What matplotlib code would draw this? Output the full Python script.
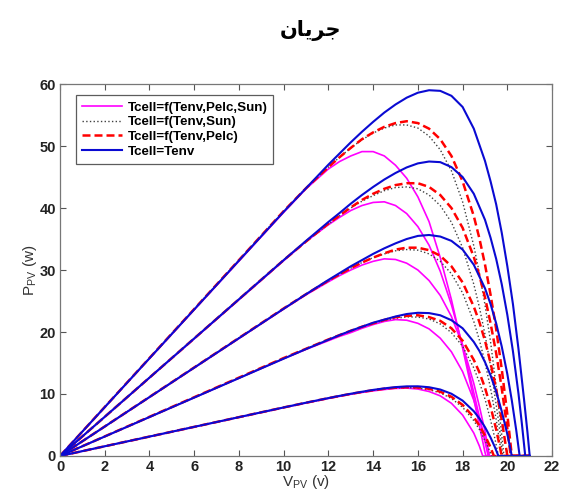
import matplotlib
matplotlib.use('Agg')
import matplotlib.pyplot as plt

plt.rcParams['font.family'] = ['Liberation Sans', 'DejaVu Sans']
plt.rcParams['mathtext.fontset'] = 'custom'
plt.rcParams['mathtext.rm'] = 'Liberation Sans'

# P-V curves of the module, 5 irradiance levels (top to bottom), 4 cell temperature models
# Tcell = f(Tenv, Pelc, Sun)
v_full = [
    [0, 10, 11, 12, 12.5, 13, 13.5, 14, 14.5, 15, 15.5, 16, 16.5, 17, 17.5, 18, 18.5, 18.75, 19, 19.05, 21],
    [0, 10, 11, 12, 12.5, 13, 13.5, 14, 14.5, 15, 15.5, 16, 16.5, 17, 17.5, 18, 18.5, 18.75, 19, 19.15, 21],
    [0, 10, 11, 12, 12.5, 13, 13.5, 14, 14.5, 15, 15.5, 16, 16.5, 17, 17.5, 18, 18.5, 18.75, 19, 19.2, 21],
    [0, 10, 11, 12, 12.5, 13, 13.5, 14, 14.5, 15, 15.5, 16, 16.5, 17, 17.5, 18, 18.5, 18.75, 19, 19.15, 21],
    [0, 10, 11, 12, 12.5, 13, 13.5, 14, 14.5, 15, 15.5, 16, 16.5, 17, 17.5, 18, 18.5, 18.75, 18.9, 21],
]
p_full = [
    [0, 39.3, 43.1, 46.3, 47.5, 48.4, 49.1, 49.1, 48.4, 46.9, 44.8, 41.8, 37.8, 32.0, 25.2, 17.4, 9.2, 4.9, 0.6, 0, 0],
    [0, 31.5, 34.6, 37.3, 38.5, 39.6, 40.4, 40.9, 41.0, 40.4, 39.1, 37.0, 34.0, 29.8, 24.4, 17.8, 10.2, 6.3, 2.3, 0, 0],
    [0, 23.7, 26.0, 28.1, 29.1, 30.0, 30.8, 31.4, 31.8, 31.7, 31.1, 30.0, 28.3, 25.9, 22.5, 17.9, 11.7, 8.0, 4.0, 0, 0],
    [0, 15.7, 17.2, 18.6, 19.3, 19.9, 20.6, 21.2, 21.7, 22.0, 21.9, 21.4, 20.5, 19.0, 16.8, 13.6, 9.0, 6.0, 2.8, 0, 0],
    [0, 7.8, 8.55, 9.28, 9.62, 9.95, 10.25, 10.5, 10.72, 10.9, 10.95, 10.8, 10.4, 9.7, 8.5, 6.6, 3.7, 1.6, 0, 0],
]

# Tcell = f(Tenv, Sun)
v_sun = [
    [0, 10, 11, 12, 12.5, 13, 13.5, 14, 14.5, 15, 15.5, 16, 16.5, 17, 17.5, 18, 18.5, 18.75, 19, 19.25, 19.6, 19.85, 21],
    [0, 10, 11, 12, 12.5, 13, 13.5, 14, 14.5, 15, 15.5, 16, 16.5, 17, 17.5, 18, 18.5, 18.75, 19, 19.25, 19.6, 19.8, 21],
    [0, 10, 11, 12, 12.5, 13, 13.5, 14, 14.5, 15, 15.5, 16, 16.5, 17, 17.5, 18, 18.5, 18.75, 19, 19.25, 19.5, 19.75, 21],
    [0, 10, 11, 12, 12.5, 13, 13.5, 14, 14.5, 15, 15.5, 16, 16.5, 17, 17.5, 18, 18.5, 18.75, 19, 19.25, 19.45, 19.6, 21],
    [0, 10, 11, 12, 12.5, 13, 13.5, 14, 14.5, 15, 15.5, 16, 16.5, 17, 17.5, 18, 18.5, 18.75, 19.1, 19.3, 21],
]
p_sun = [
    [0, 39.5, 43.2, 46.6, 48.2, 49.7, 51.0, 52.1, 52.9, 53.4, 53.4, 52.9, 51.6, 49.4, 46.0, 41.0, 33.9, 29.5, 24.4, 18.4, 8.4, 0, 0],
    [0, 31.6, 34.6, 37.4, 38.75, 40.0, 41.1, 42.0, 42.8, 43.3, 43.4, 43.1, 42.1, 40.4, 37.7, 33.6, 27.7, 24.0, 19.6, 14.5, 5.8, 0, 0],
    [0, 23.8, 26.1, 28.2, 29.3, 30.3, 31.2, 32.0, 32.6, 33.1, 33.3, 33.2, 32.6, 31.4, 29.4, 26.3, 21.7, 18.7, 15.1, 10.9, 5.9, 0, 0],
    [0, 15.8, 17.3, 18.8, 19.5, 20.2, 20.8, 21.4, 21.9, 22.2, 22.45, 22.4, 22.1, 21.3, 19.9, 17.7, 14.2, 11.9, 9.2, 5.8, 2.7, 0, 0],
    [0, 7.83, 8.59, 9.32, 9.67, 10.01, 10.32, 10.59, 10.81, 10.97, 11.04, 10.96, 10.7, 10.18, 9.28, 7.86, 5.71, 4.28, 1.76, 0, 0],
]

# Tcell = f(Tenv, Pelc)
v_pelc = [
    [0, 10, 11, 12, 12.5, 13, 13.5, 14, 14.5, 15, 15.5, 16, 16.5, 17, 17.5, 18, 18.5, 18.75, 19, 19.25, 19.5, 19.75, 20, 20.2, 21],
    [0, 10, 11, 12, 12.5, 13, 13.5, 14, 14.5, 15, 15.5, 16, 16.5, 17, 17.5, 18, 18.5, 18.75, 19, 19.25, 19.5, 19.75, 20, 20.15, 21],
    [0, 10, 11, 12, 12.5, 13, 13.5, 14, 14.5, 15, 15.5, 16, 16.5, 17, 17.5, 18, 18.5, 18.75, 19, 19.25, 19.5, 19.75, 20.0, 21],
    [0, 10, 11, 12, 12.5, 13, 13.5, 14, 14.5, 15, 15.5, 16, 16.5, 17, 17.5, 18, 18.5, 18.75, 19, 19.25, 19.5, 19.75, 21],
    [0, 10, 11, 12, 12.5, 13, 13.5, 14, 14.5, 15, 15.5, 16, 16.5, 17, 17.5, 18, 18.5, 18.75, 19, 19.2, 19.4, 21],
]
p_pelc = [
    [0, 39.5, 43.2, 46.6, 48.2, 49.7, 51.1, 52.2, 53.1, 53.7, 54.0, 53.7, 52.8, 51.1, 48.4, 44.3, 38.7, 35.1, 30.9, 26.0, 20.5, 14.0, 6.7, 0, 0],
    [0, 31.6, 34.6, 37.5, 38.8, 40.1, 41.3, 42.3, 43.1, 43.7, 44.0, 44.0, 43.4, 42.1, 40.0, 36.8, 32.1, 29.1, 25.6, 21.4, 16.6, 10.9, 4.4, 0, 0],
    [0, 23.8, 26.1, 28.3, 29.3, 30.3, 31.2, 32.0, 32.7, 33.3, 33.6, 33.6, 33.2, 32.3, 30.6, 28.0, 24.1, 21.6, 18.6, 15.0, 10.8, 5.8, 0, 0],
    [0, 15.8, 17.3, 18.8, 19.5, 20.2, 20.85, 21.4, 21.95, 22.4, 22.6, 22.7, 22.4, 21.8, 20.6, 18.6, 15.5, 13.5, 11.0, 7.95, 4.3, 0, 0],
    [0, 7.83, 8.59, 9.33, 9.68, 10.02, 10.33, 10.61, 10.85, 11.02, 11.1, 11.06, 10.84, 10.37, 9.55, 8.24, 6.25, 4.9, 3.3, 1.77, 0, 0],
]

# Tcell = Tenv
v_env = [
    [0, 10, 11, 12, 12.5, 13, 13.5, 14, 14.5, 15, 15.5, 16, 16.5, 17, 17.5, 18, 18.5, 19, 19.25, 19.5, 19.75, 20, 20.25, 20.5, 20.75, 20.9, 21],
    [0, 10, 11, 12, 12.5, 13, 13.5, 14, 14.5, 15, 15.5, 16, 16.5, 17, 17.5, 18, 18.5, 19, 19.25, 19.5, 19.75, 20, 20.25, 20.5, 20.65, 20.8, 21],
    [0, 10, 11, 12, 12.5, 13, 13.5, 14, 14.5, 15, 15.5, 16, 16.5, 17, 17.5, 18, 18.5, 19, 19.25, 19.5, 19.75, 20, 20.2, 20.4, 20.55, 21],
    [0, 10, 11, 12, 12.5, 13, 13.5, 14, 14.5, 15, 15.5, 16, 16.5, 17, 17.5, 18, 18.5, 18.75, 19, 19.25, 19.5, 19.75, 20, 20.2, 21],
    [0, 10, 11, 12, 12.5, 13, 13.5, 14, 14.5, 15, 15.5, 16, 16.5, 17, 17.5, 18, 18.5, 18.75, 19, 19.25, 19.45, 19.6, 21],
]
p_env = [
    [0, 39.4, 43.2, 47.0, 48.8, 50.6, 52.3, 53.9, 55.4, 56.7, 57.8, 58.6, 59.0, 58.9, 58.1, 56.3, 52.8, 47.6, 44.3, 40.6, 36.0, 30.6, 24.5, 17.2, 9.0, 3.8, 0],
    [0, 31.6, 34.7, 37.75, 39.2, 40.7, 42.1, 43.4, 44.6, 45.65, 46.55, 47.2, 47.5, 47.4, 46.6, 45.0, 42.3, 38.1, 35.2, 31.8, 27.7, 22.75, 16.9, 10.0, 5.2, 0, 0],
    [0, 23.75, 26.1, 28.4, 29.5, 30.6, 31.6, 32.6, 33.5, 34.3, 35.0, 35.5, 35.65, 35.4, 34.7, 33.3, 30.85, 27.05, 24.5, 21.4, 17.65, 13.2, 8.95, 4.1, 0, 0],
    [0, 15.7, 17.25, 18.75, 19.5, 20.2, 20.85, 21.5, 22.0, 22.5, 22.9, 23.1, 23.05, 22.7, 21.9, 20.6, 18.4, 16.95, 15.15, 13.0, 10.4, 7.2, 3.5, 0, 0],
    [0, 7.83, 8.6, 9.34, 9.7, 10.04, 10.36, 10.66, 10.91, 11.11, 11.23, 11.24, 11.09, 10.72, 10.04, 8.93, 7.22, 6.06, 4.66, 2.97, 1.37, 0, 0],
]

labels = ['Tcell=f(Tenv,Pelc,Sun)', 'Tcell=f(Tenv,Sun)', 'Tcell=f(Tenv,Pelc)', 'Tcell=Tenv']
x_ticks = [0, 2, 4, 6, 8, 10, 12, 14, 16, 18, 20, 22]
y_ticks = [0, 10, 20, 30, 40, 50, 60]

fig = plt.figure(figsize=(5.63, 4.92), dpi=100)
ax = fig.add_axes([0.1066, 0.0732, 0.874, 0.756])

groups = [
    (v_full, p_full, dict(color='#ff00ff', lw=1.2, ls='-')),
    (v_sun, p_sun, dict(color='#404040', lw=1.0, ls=':')),
    (v_pelc, p_pelc, dict(color='#ff0000', lw=1.8, ls=(0, (3.2, 1.6)))),
    (v_env, p_env, dict(color='#0a0ad2', lw=1.5, ls='-')),
]
handles = []
for (vs, ps, style), lab in zip(groups, labels):
    for i, (v, p) in enumerate(zip(vs, ps)):
        ln, = ax.plot(v, p, solid_joinstyle='round', **style)
        if i == 0:
            ln.set_label(lab)
            handles.append(ln)

ax.set_xlim(0, 22)
ax.set_ylim(0, 60)
ax.set_xticks(x_ticks)
ax.set_yticks(y_ticks)
ax.tick_params(direction='in', length=4, width=0.8, top=True, right=True,
               labelsize=10.5, colors='#555555', labelcolor='#222222', pad=3)
for lbl in ax.get_xticklabels() + ax.get_yticklabels():
    lbl.set_fontweight('bold')
for sp in ax.spines.values():
    sp.set_color('#777777')
    sp.set_linewidth(0.9)

ax.set_xlabel(r'$\mathregular{V_{PV}}$ (v)', fontsize=11, color='#333333', labelpad=-1)
ax.set_ylabel(r'$\mathregular{P_{PV}}$ (w)', fontsize=11, color='#333333', labelpad=0)

leg = ax.legend(handles=handles, loc='upper left', bbox_to_anchor=(0.033, 0.97),
                prop=dict(size=9.6, weight='bold'), frameon=True, fancybox=False,
                handlelength=3.0, handletextpad=0.4, labelspacing=0.18,
                borderpad=0.45, borderaxespad=0)
leg.get_frame().set_edgecolor('#333333')
leg.get_frame().set_linewidth(0.9)

# title shaped by hand (presentation forms, visual order)
fig.text(0.551, 0.939, '\uFEE5\uFE8E\uFBFE\uFEAE\uFE9F', ha='center', va='center',
         fontsize=15, fontweight='bold', family=['DejaVu Sans'])

fig.savefig('out.png', dpi=100)
